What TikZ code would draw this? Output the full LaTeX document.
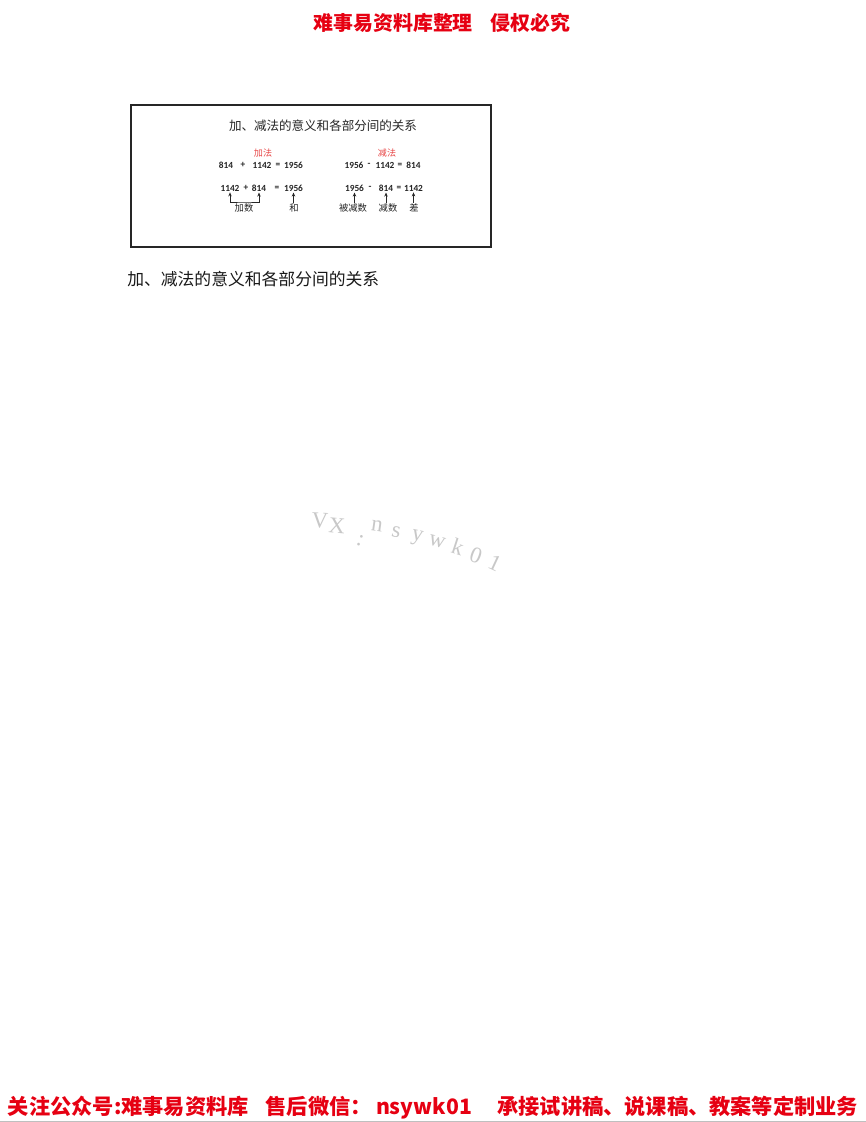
\documentclass[tikz,border=0pt]{standalone}
\usepackage{fontspec}
\usepackage{graphicx}
\setmainfont{Liberation Serif}
\newfontfamily\cjk{Noto Sans CJK SC}
\newfontfamily\numf{Carlito}
\newfontfamily\wmf{Liberation Serif}
\usetikzlibrary{arrows.meta}
\definecolor{hdrred}{RGB}{230,0,18}
\definecolor{lightred}{RGB}{232,72,72}
\definecolor{wmgray}{RGB}{200,200,200}
\tikzset{
  num/.style={inner sep=0.8pt, font=\numf\bfseries\fontsize{7pt}{8pt}\selectfont, text=black!85},
  lbl/.style={inner sep=0.5pt, font=\cjk\fontsize{7pt}{8pt}\selectfont, text=black!85},
  opname/.style={inner sep=0.5pt, font=\cjk\fontsize{6.8pt}{8pt}\selectfont, text=lightred},
  arr/.style={-{Stealth[length=3pt,width=2.6pt]}, line width=0.5pt, black!85},
  barr/.style={{Stealth[length=3pt,width=2.6pt]}-{Stealth[length=3pt,width=2.6pt]}, line width=0.5pt, black!85},
  wm/.style={inner sep=0pt, font=\wmf\fontsize{17pt}{18pt}\selectfont, text=wmgray},
  banner/.style={inner sep=0pt, font=\cjk\bfseries, text=hdrred}
}
\begin{document}
\begin{tikzpicture}[x=0.75pt,y=-0.75pt]
\useasboundingbox[fill=white] (0,0) rectangle (866,1122);
% header
\node[banner] (hdr) at (442,23) {\resizebox{192.75pt}{!}{\fontsize{15pt}{16pt}\selectfont 难事易资料库整理\hspace{0.9em}侵权必究}};
% box
\draw[line width=0.9pt, black!85] (131,105) rectangle (491,247);
\node[inner sep=0pt, font=\cjk\fontsize{9.4pt}{10pt}\selectfont, text=black!85] (title) at (323,126) {加、减法的意义和各部分间的关系};
% addition
\node[opname] (add) at (263,153) {加法};
\node[num] (a1) at (226,165) {814};
\node[num] (a2) at (243,165) {+};
\node[num] (a3) at (262,165) {1142};
\node[num] (a4) at (278,165) {=};
\node[num] (a5) at (293.5,165) {1956};
\node[num] (b1) at (230,188) {1142};
\node[num] (b2) at (246,188) {+};
\node[num] (b3) at (259,188) {814};
\node[num] (b4) at (277,188) {=};
\node[num] (b5) at (293.5,188) {1956};
\node[lbl] (addend) at (244,208) {加数};
\node[lbl] (sum) at (294,208) {和};
\coordinate (bk) at (244,202);
\draw[barr] (b1.south) |- (bk) -| (b3.south);
\draw[arr] (b5.south |- sum.north) -- (b5.south);
% subtraction
\node[opname] (sub) at (387,153) {减法};
\node[num] (c1) at (354,165) {1956};
\node[num] (c2) at (369,165) {-};
\node[num] (c3) at (385,165) {1142};
\node[num] (c4) at (400,165) {=};
\node[num] (c5) at (413.5,165) {814};
\node[num] (d1) at (354.5,188) {1956};
\node[num] (d2) at (370,188) {-};
\node[num] (d3) at (386,188) {814};
\node[num] (d4) at (399,188) {=};
\node[num] (d5) at (413.5,188) {1142};
\node[lbl] (minuend) at (353,208) {被减数};
\node[lbl] (subtr) at (388,208) {减数};
\node[lbl] (diff) at (414,208) {差};
\draw[arr] (d1.south |- minuend.north) -- (d1.south);
\draw[arr] (d3.south |- subtr.north) -- (d3.south);
\draw[arr] (d5.south |- diff.north) -- (d5.south);
% caption
\node[anchor=west, inner sep=0pt, font=\cjk\fontsize{12.6pt}{14pt}\selectfont, text=black!90] (cap) at (127,279) {加、减法的意义和各部分间的关系};
% watermark
\node[wm, rotate=-3] (w1) at (320,521) {V};
\node[wm, rotate=-5] (w2) at (337,526) {X};
\node[wm, rotate=-20] (w3) at (360,541) {:};
\node[wm, rotate=-8] (w4) at (377,526) {n};
\node[wm, rotate=-10] (w5) at (396,532) {s};
\node[wm, rotate=-12] (w6) at (417,538) {y};
\node[wm, rotate=-15] (w7) at (437,542) {w};
\node[wm, rotate=-18] (w8) at (458,547) {k};
\node[wm, rotate=-20] (w9) at (476,555) {0};
\node[wm, rotate=-25] (w10) at (495,563) {1};
% footer
\node[banner] (ftr) at (433,1108) {\resizebox{637.5pt}{!}{\fontsize{16pt}{17pt}\selectfont 关注公众号:难事易资料库\hspace{0.8em}售后微信：\hspace{0.2em}nsywk01\hspace{1.2em}承接试讲稿、说课稿、教案等定制业务}};
\draw[line width=0.5pt, black!25] (0,1121) -- (866,1121);
\end{tikzpicture}
\end{document}
